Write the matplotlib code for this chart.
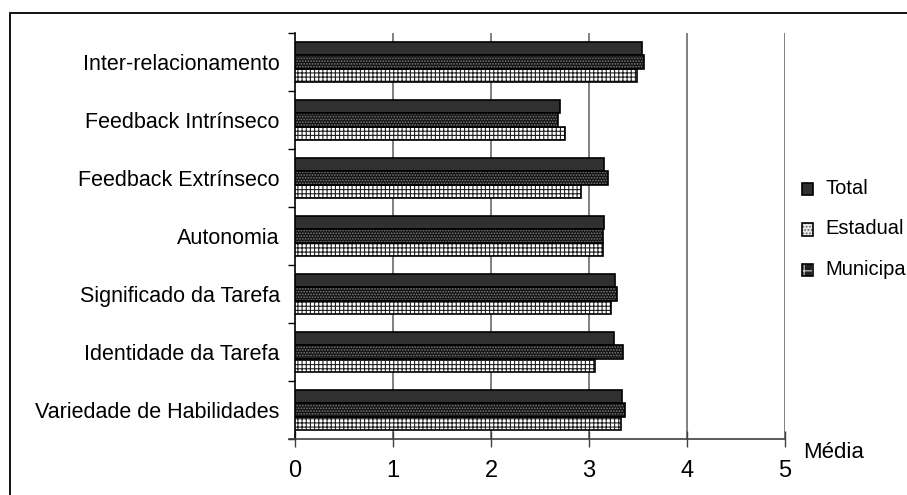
import numpy as np
import matplotlib
matplotlib.use('Agg')
import matplotlib.pyplot as plt
from matplotlib.patches import Patch, Rectangle
from matplotlib.legend_handler import HandlerBase

# dados (de baixo para cima)
categorias = ['Variedade de Habilidades', 'Identidade da Tarefa', 'Significado da Tarefa',
              'Autonomia', 'Feedback Extrínseco', 'Feedback Intrínseco', 'Inter-relacionamento']
total = [3.34, 3.25, 3.27, 3.15, 3.15, 2.70, 3.54]
estadual = [3.37, 3.35, 3.29, 3.14, 3.19, 2.68, 3.56]
municipal = [3.33, 3.06, 3.22, 3.14, 2.92, 2.76, 3.49]
xticks = [0, 1, 2, 3, 4, 5]
legenda = ['Total', 'Estadual', 'Municipa']

plt.rcParams['font.family'] = 'Liberation Sans'
plt.rcParams['hatch.linewidth'] = 0.8

fig = plt.figure(figsize=(9.07, 4.95), dpi=100)
ax = fig.add_axes([295 / 907, 1 - 439 / 495, 490 / 907, 406 / 495])

y = np.arange(len(categorias))
h = 0.232

# grade vertical
for xv in xticks[1:]:
    ax.axvline(xv, color='#808080', lw=1.4, zorder=0)

# Total
ax.barh(y + h, total, height=h, color='#303030', edgecolor='black', lw=1.2, zorder=3)
# Estadual (pontilhado escuro)
ax.barh(y, estadual, height=h, color='#141414', edgecolor='#7a7a7a', hatch='......', lw=0, zorder=3)
ax.barh(y, estadual, height=h, fill=False, edgecolor='black', lw=1.2, zorder=4)
# Municipal (grade clara)
ax.barh(y - h, municipal, height=h, color='white', edgecolor='#202020', hatch='++++', lw=0, zorder=3)
ax.barh(y - h, municipal, height=h, fill=False, edgecolor='black', lw=1.2, zorder=4)

ax.set_xlim(0, 5)
ax.set_ylim(-0.5, len(categorias) - 0.5)
ax.set_xticks(xticks)
ax.set_yticks(y)
ax.set_yticklabels(categorias, fontsize=15.5)
ax.set_yticks(np.arange(-0.5, len(categorias)), minor=True)
ax.tick_params(axis='y', which='major', length=0, pad=11)
ax.tick_params(axis='y', which='minor', length=5, width=1, direction='out')
ax.tick_params(axis='x', labelsize=17, direction='inout', length=12, width=1, color='#404040', pad=9)

for s in ['top', 'right', 'bottom']:
    ax.spines[s].set_visible(False)
ax.spines['left'].set_linewidth(1.2)
ax.plot([-0.065, 5], [-0.5, -0.5], color='#404040', lw=1.2, clip_on=False, zorder=5)

fig.text(803 / 907, 1 - 452 / 495, 'Média', fontsize=16, va='center', ha='left')


# ícone da legenda: fundo com hachura + borda preta
class HandlerIcone(HandlerBase):
    def create_artists(self, legend, orig, xd, yd, w, hgt, fs, trans):
        fundo = Rectangle((xd, yd), w, hgt, facecolor=orig.get_facecolor(),
                          edgecolor=orig.get_edgecolor(), hatch=orig.get_hatch(), lw=0, transform=trans)
        borda = Rectangle((xd, yd), w, hgt, fill=False, edgecolor='black', lw=1.2, transform=trans)
        return [fundo, borda]


handles = [Patch(facecolor='#303030', edgecolor='black'),
           Patch(facecolor='#e8e8e8', edgecolor='#606060', hatch='.....'),
           Patch(facecolor='#202020', edgecolor='#d0d0d0', hatch='++')]
fig.legend(handles, legenda, loc='center left',
           bbox_to_anchor=(802 / 907, 1 - 229 / 495), frameon=False, fontsize=14.5,
           handlelength=0.55, handleheight=0.55, handletextpad=0.6, labelspacing=1.05,
           borderpad=0, borderaxespad=0,
           handler_map={Patch: HandlerIcone()})

# moldura
fig.patches.append(Rectangle((10 / 907, -0.1), 1.2, 1.1 - 13 / 495, transform=fig.transFigure,
                             fill=False, edgecolor='black', lw=1.3))

fig.savefig('out.png', dpi=100)
